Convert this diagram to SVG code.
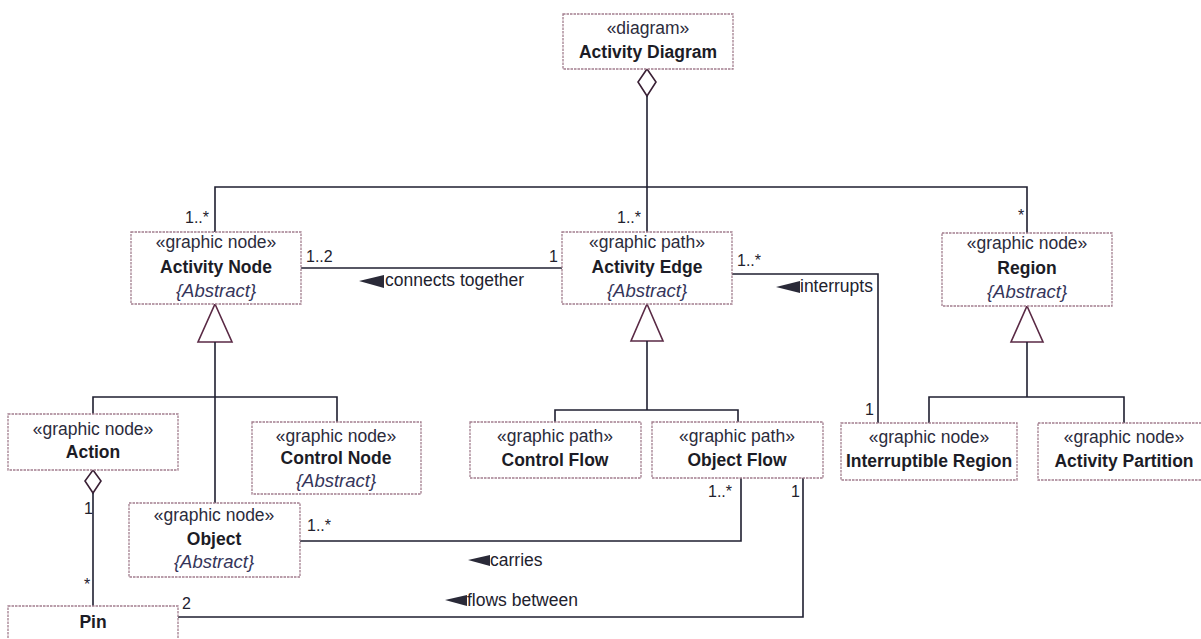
<svg xmlns="http://www.w3.org/2000/svg" width="1201" height="639" viewBox="0 0 1201 639">
  <style>
    .box { fill: #ffffff; stroke: #a27e8e; stroke-width: 1.3; stroke-dasharray: 2.5 1; }
    .st { font-family: "Liberation Sans", Arial, sans-serif; font-size: 17.5px; fill: #2c2c3c; text-anchor: middle; }
    .nm { font-family: "Liberation Sans", Arial, sans-serif; font-size: 17.5px; font-weight: bold; fill: #1c1c26; text-anchor: middle; }
    .ab { font-family: "Liberation Sans", Arial, sans-serif; font-size: 18.5px; font-style: italic; fill: #35355a; text-anchor: middle; }
    .mult { font-family: "Liberation Sans", Arial, sans-serif; font-size: 16px; fill: #22222e; }
    .lbl { font-family: "Liberation Sans", Arial, sans-serif; font-size: 17.5px; fill: #22222e; }
    .line { fill: none; stroke: #1f1f30; stroke-width: 1.6; }
    .gen { fill: #ffffff; stroke: #5a2a45; stroke-width: 1.6; stroke-linejoin: miter; }
    .agg { fill: #ffffff; stroke: #3a2035; stroke-width: 1.6; }
    .dir { fill: #2a2a38; }
  </style>

  <rect width="1201" height="639" fill="#ffffff"/>

  <!-- connectors -->
  <g id="connectors">
    <!-- composition of the diagram -->
    <polygon class="agg" points="647,69 656,82 647,96 638,82"/>
    <path class="line" d="M647,96 V232"/>
    <path class="line" d="M215,232 V187 H1027 V233"/>
    <text class="mult" x="185" y="223">1..*</text>
    <text class="mult" x="617" y="223">1..*</text>
    <text class="mult" x="1018" y="221">*</text>

    <!-- connects together -->
    <path class="line" d="M301,268 H562"/>
    <text class="mult" x="306" y="262">1..2</text>
    <text class="mult" x="549" y="262">1</text>
    <polygon class="dir" points="359,281 384,275 384,288"/>
    <text class="lbl" x="385" y="286">connects together</text>

    <!-- interrupts -->
    <path class="line" d="M732,274 H878 V423"/>
    <text class="mult" x="737" y="266">1..*</text>
    <text class="mult" x="865" y="415">1</text>
    <polygon class="dir" points="776,287 800,281 800,293"/>
    <text class="lbl" x="800" y="292">interrupts</text>

    <!-- Activity Node specialisations -->
    <polygon class="gen" points="215,304 232,342 198,342"/>
    <path class="line" d="M215,342 V503"/>
    <path class="line" d="M93,414 V397 H337 V422"/>

    <!-- Activity Edge specialisations -->
    <polygon class="gen" points="647,304 663,341 631,341"/>
    <path class="line" d="M647,341 V410"/>
    <path class="line" d="M555,422 V410 H738 V422"/>

    <!-- Region specialisations -->
    <polygon class="gen" points="1027,306 1043,342 1011,342"/>
    <path class="line" d="M1027,342 V397"/>
    <path class="line" d="M929,423 V397 H1124 V423"/>

    <!-- Action owns Pins -->
    <polygon class="agg" points="93,470 101,481 93,493 85,481"/>
    <path class="line" d="M93,493 V606"/>
    <text class="mult" x="84" y="514">1</text>
    <text class="mult" x="84" y="590">*</text>

    <!-- carries -->
    <path class="line" d="M300,541 H741 V478"/>
    <text class="mult" x="307" y="531">1..*</text>
    <text class="mult" x="708" y="497">1..*</text>
    <polygon class="dir" points="468,560 490,555 490,566"/>
    <text class="lbl" x="490" y="566">carries</text>

    <!-- flows between -->
    <path class="line" d="M178,617 H803 V478"/>
    <text class="mult" x="182" y="609">2</text>
    <text class="mult" x="791" y="497">1</text>
    <polygon class="dir" points="445,600 467,595 467,606"/>
    <text class="lbl" x="467" y="606">flows between</text>
  </g>

  <!-- nodes -->
  <g id="activity-diagram">
    <rect class="box" x="563" y="14" width="170" height="55"/>
    <text class="st" x="648" y="34">«diagram»</text>
    <text class="nm" x="648" y="58">Activity Diagram</text>
  </g>

  <g id="activity-node">
    <rect class="box" x="131" y="232" width="170" height="72"/>
    <text class="st" x="216" y="248">«graphic node»</text>
    <text class="nm" x="216" y="273">Activity Node</text>
    <text class="ab" x="216" y="297">{Abstract}</text>
  </g>

  <g id="activity-edge">
    <rect class="box" x="562" y="232" width="170" height="72"/>
    <text class="st" x="647" y="248">«graphic path»</text>
    <text class="nm" x="647" y="273">Activity Edge</text>
    <text class="ab" x="647" y="297">{Abstract}</text>
  </g>

  <g id="region">
    <rect class="box" x="942" y="233" width="170" height="73"/>
    <text class="st" x="1027" y="249">«graphic node»</text>
    <text class="nm" x="1027" y="274">Region</text>
    <text class="ab" x="1027" y="298">{Abstract}</text>
  </g>

  <g id="action">
    <rect class="box" x="8" y="414" width="170" height="56"/>
    <text class="st" x="93" y="435">«graphic node»</text>
    <text class="nm" x="93" y="458">Action</text>
  </g>

  <g id="control-node">
    <rect class="box" x="252" y="422" width="169" height="72"/>
    <text class="st" x="336" y="442">«graphic node»</text>
    <text class="nm" x="336" y="464">Control Node</text>
    <text class="ab" x="336" y="487">{Abstract}</text>
  </g>

  <g id="object">
    <rect class="box" x="129" y="503" width="171" height="74"/>
    <text class="st" x="214" y="521">«graphic node»</text>
    <text class="nm" x="214" y="545">Object</text>
    <text class="ab" x="214" y="568">{Abstract}</text>
  </g>

  <g id="pin">
    <rect class="box" x="8" y="606" width="170" height="56"/>
    <text class="nm" x="93" y="628">Pin</text>
  </g>

  <g id="control-flow">
    <rect class="box" x="470" y="422" width="171" height="56"/>
    <text class="st" x="555" y="442">«graphic path»</text>
    <text class="nm" x="555" y="466">Control Flow</text>
  </g>

  <g id="object-flow">
    <rect class="box" x="652" y="422" width="171" height="56"/>
    <text class="st" x="737" y="442">«graphic path»</text>
    <text class="nm" x="737" y="466">Object Flow</text>
  </g>

  <g id="interruptible-region">
    <rect class="box" x="841" y="423" width="176" height="57"/>
    <text class="st" x="929" y="443">«graphic node»</text>
    <text class="nm" x="929" y="467">Interruptible Region</text>
  </g>

  <g id="activity-partition">
    <rect class="box" x="1038" y="423" width="172" height="57"/>
    <text class="st" x="1124" y="443">«graphic node»</text>
    <text class="nm" x="1124" y="467">Activity Partition</text>
  </g>
</svg>
